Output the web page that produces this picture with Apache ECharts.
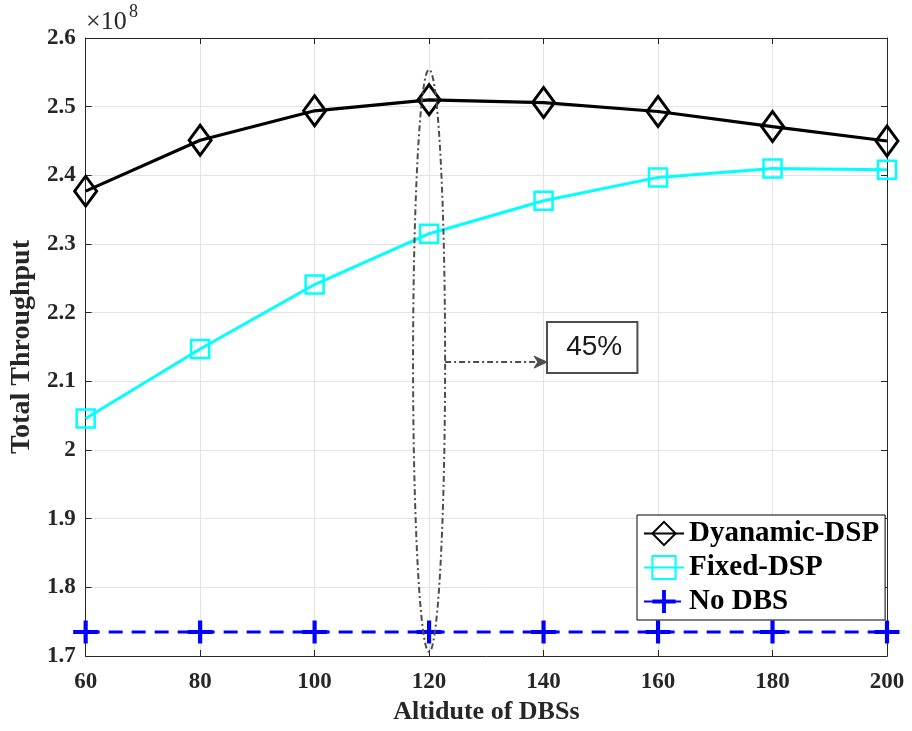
<!DOCTYPE html>
<html>
<head>
<meta charset="utf-8">
<script src="https://cdn.jsdelivr.net/npm/echarts@6/dist/echarts.min.js"></script>
<style>
html,body{margin:0;padding:0;background:#fff;}
#chart{width:912px;height:731px;}
</style>
</head>
<body>
<div id="chart"></div>
<script>
// ---- data (throughput in units of 1e8) ----
const altitudes = [60, 80, 100, 120, 140, 160, 180, 200];
const dynamicDSP = [2.377, 2.451, 2.494, 2.510, 2.506, 2.493, 2.471, 2.450];
const fixedDSP   = [2.046, 2.147, 2.241, 2.315, 2.363, 2.397, 2.410, 2.408];
const noDBS      = [1.735, 1.735, 1.735, 1.735, 1.735, 1.735, 1.735, 1.735];
const seriesNames = ['Dyanamic-DSP', 'Fixed-DSP', 'No DBS'];
const annotationText = '45%';

// annotation geometry in data units
const ellipse = {cx: 120, cy: 2.13, rx: 2.8, ry: 0.424};
const arrow = {x0: 122.8, x1: 140.6, y: 2.128};
const box = {x0: 140.6, x1: 156.4, y0: 2.1864, y1: 2.1122};

const pairs = arr => altitudes.map((x, i) => [x, arr[i]]);

const axisColor = '#262626';
const serif = '"Liberation Serif", "Times New Roman", serif';
const plusPath = 'path://M10,0 H14 V10 H24 V14 H14 V24 H10 V14 H0 V10 H10 Z';

const chart = echarts.init(document.getElementById('chart'));

chart.setOption({
  animation: false,
  backgroundColor: '#fff',
  grid: {left: 84, right: 25, top: 38, bottom: 75},
  xAxis: [{
    type: 'value', min: 60, max: 200, interval: 20,
    name: 'Altidute of DBSs', nameLocation: 'middle', nameGap: 40,
    nameTextStyle: {fontFamily: serif, fontWeight: 'bold', fontSize: 26, color: axisColor},
    axisLine: {lineStyle: {color: axisColor, width: 1}},
    axisTick: {inside: true, length: 6, lineStyle: {color: axisColor}},
    axisLabel: {fontFamily: serif, fontWeight: 'bold', fontSize: 23, color: axisColor, margin: 15},
    splitLine: {show: true, lineStyle: {color: '#e3e3e3', width: 1}}
  }, {
    type: 'value', min: 60, max: 200, interval: 20, position: 'top',
    axisLine: {lineStyle: {color: axisColor, width: 1}},
    axisTick: {inside: true, length: 6, lineStyle: {color: axisColor}},
    axisLabel: {show: false}, splitLine: {show: false}
  }],
  yAxis: [{
    type: 'value', min: 1.7, max: 2.6, interval: 0.1,
    name: 'Total Throughput', nameLocation: 'middle', nameGap: 49,
    nameTextStyle: {fontFamily: serif, fontWeight: 'bold', fontSize: 28, color: axisColor},
    axisLine: {show: true, lineStyle: {color: axisColor, width: 1}},
    axisTick: {show: true, inside: true, length: 6, lineStyle: {color: axisColor}},
    axisLabel: {fontFamily: serif, fontWeight: 'bold', fontSize: 23, color: axisColor, margin: 10},
    splitLine: {show: true, lineStyle: {color: '#e3e3e3', width: 1}}
  }, {
    type: 'value', min: 1.7, max: 2.6, interval: 0.1, position: 'right',
    axisLine: {show: true, lineStyle: {color: axisColor, width: 1}},
    axisTick: {show: true, inside: true, length: 6, lineStyle: {color: axisColor}},
    axisLabel: {show: false}, splitLine: {show: false}
  }],
  legend: {
    data: seriesNames,
    orient: 'vertical', left: 637, top: 515,
    backgroundColor: '#fff', borderColor: '#000', borderWidth: 1,
    padding: [4, 6, 4, 6], itemGap: 5, itemWidth: 40, itemHeight: 29,
    textStyle: {fontFamily: serif, fontWeight: 'bold', fontSize: 29, color: '#000'}
  },
  graphic: [
    {type: 'text', left: 86, top: 9, style: {text: '×10', font: '26px ' + serif, fill: axisColor}},
    {type: 'text', left: 129, top: 3, style: {text: '8', font: '18px ' + serif, fill: axisColor}}
  ],
  series: [
    {
      name: seriesNames[0], type: 'line', data: pairs(dynamicDSP),
      symbol: 'diamond', symbolSize: [22, 30], showAllSymbol: true,
      lineStyle: {color: '#000', width: 3.2},
      itemStyle: {color: 'rgba(255,255,255,0)', borderColor: '#000', borderWidth: 3},
      z: 4
    },
    {
      name: seriesNames[1], type: 'line', data: pairs(fixedDSP),
      symbol: 'rect', symbolSize: 18,
      lineStyle: {color: '#00ffff', width: 3},
      itemStyle: {color: 'rgba(255,255,255,0)', borderColor: '#00ffff', borderWidth: 2.5},
      z: 3
    },
    {
      name: seriesNames[2], type: 'line', data: pairs(noDBS),
      symbol: plusPath, symbolSize: [25, 23],
      lineStyle: {color: '#0000ff', width: 3, type: [14, 9]},
      itemStyle: {color: '#0000ff'},
      z: 3
    },
    {
      type: 'custom', silent: true, z: 5,
      data: [[ellipse.cx, ellipse.cy]],
      renderItem: function (params, api) {
        const pts = [];
        for (let k = 0; k <= 120; k++) {
          const t = k / 120 * Math.PI * 2;
          pts.push(api.coord([ellipse.cx + ellipse.rx * Math.cos(t), ellipse.cy + ellipse.ry * Math.sin(t)]));
        }
        const a0 = api.coord([arrow.x0, arrow.y]);
        const a1 = api.coord([arrow.x1, arrow.y]);
        const b0 = api.coord([box.x0, box.y0]);
        const b1 = api.coord([box.x1, box.y1]);
        const grey = '#4d4d4d';
        return {
          type: 'group',
          children: [
            {type: 'polyline', shape: {points: pts},
             style: {stroke: grey, lineWidth: 2, fill: null, lineDash: [6, 3, 2, 3]}},
            {type: 'line', shape: {x1: a0[0], y1: a0[1], x2: a1[0] - 8, y2: a1[1]},
             style: {stroke: grey, lineWidth: 2, lineDash: [6, 3, 2, 3]}},
            {type: 'polygon', shape: {points: [[a1[0], a1[1]], [a1[0] - 13, a1[1] - 6], [a1[0] - 9, a1[1]], [a1[0] - 13, a1[1] + 6]]},
             style: {fill: grey, stroke: grey, lineWidth: 1}},
            {type: 'rect', shape: {x: b0[0], y: b0[1], width: b1[0] - b0[0], height: b1[1] - b0[1]},
             style: {fill: '#fff', stroke: grey, lineWidth: 2}},
            {type: 'text', x: (b0[0] + b1[0]) / 2 + 2, y: (b0[1] + b1[1]) / 2,
             style: {text: annotationText, fill: '#1a1a1a', font: '28px "Liberation Sans", Arial, sans-serif',
                     align: 'center', verticalAlign: 'middle'}}
          ]
        };
      }
    }
  ]
});
</script>
</body>
</html>
